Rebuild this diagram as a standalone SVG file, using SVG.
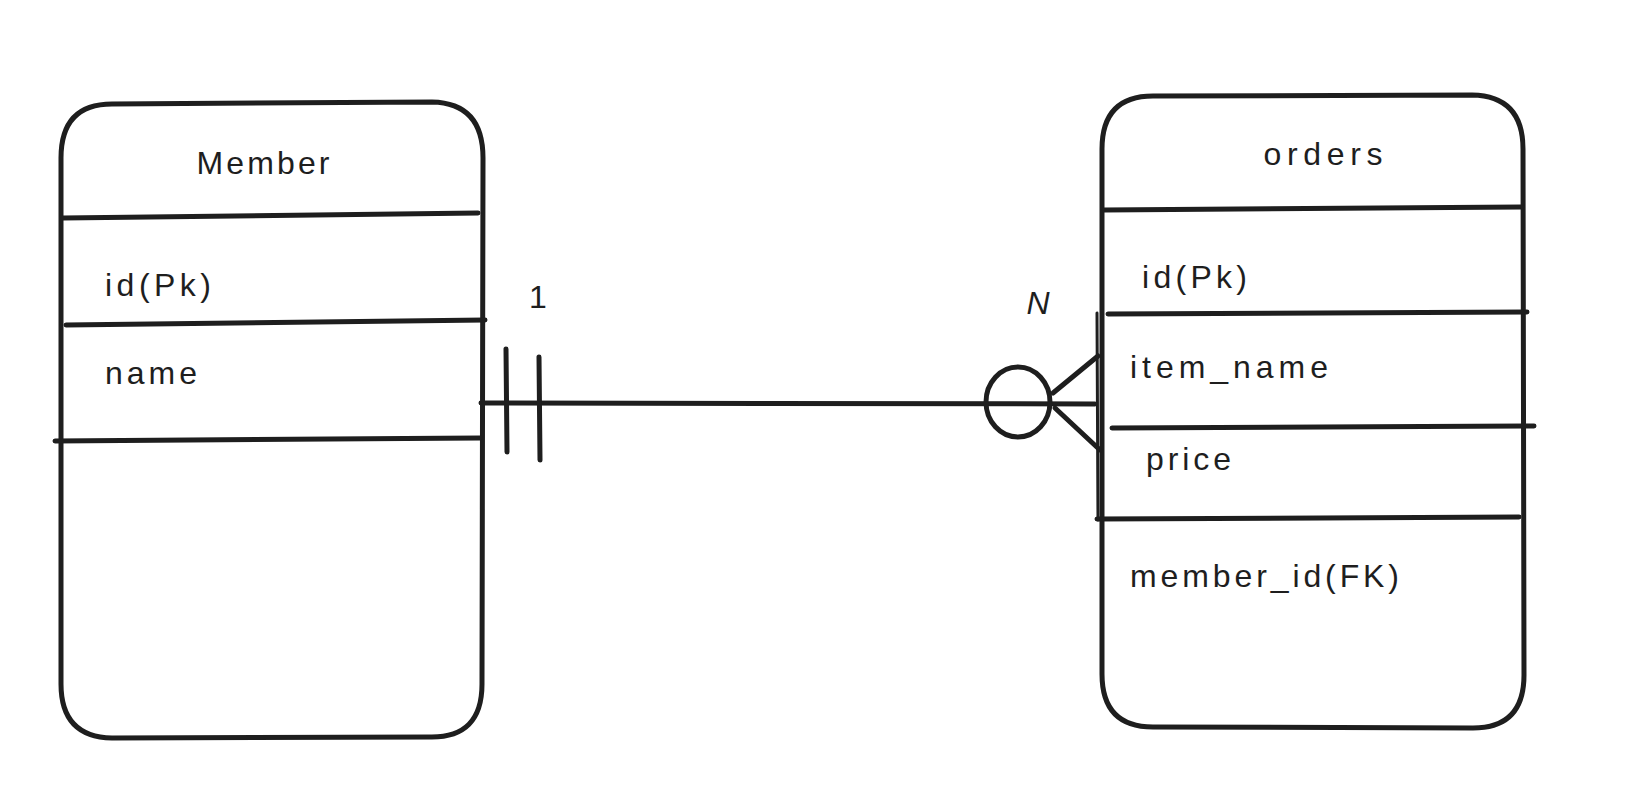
<svg xmlns="http://www.w3.org/2000/svg" width="1646" height="804" viewBox="0 0 1646 804">
<style>
.s{fill:none;stroke:#1e1e1e;stroke-width:5;stroke-linecap:round;stroke-linejoin:round}
.t{font-family:"Liberation Sans",Arial,sans-serif;font-size:32px;fill:#1e1e1e}
</style>
<rect width="1646" height="804" fill="#ffffff"/>
<g id="member">
<path class="s" d="M112,104 L432,102 Q483,103 483,158 L482,684 Q482,738 430,737 L112,738 Q61,737 61,684 L61,158 Q61,104 112,104 Z"/>
<path class="s" d="M63,218 L478,213"/>
<path class="s" d="M66,325 L485,320"/>
<path class="s" d="M55,441 L480,438"/>
<text class="t" x="263" y="174" text-anchor="middle" textLength="133" lengthAdjust="spacing">Member</text>
<text class="t" x="105" y="296" textLength="106" lengthAdjust="spacing">id(Pk)</text>
<text class="t" x="105" y="384" textLength="92" lengthAdjust="spacing">name</text>
</g>
<g id="orders">
<path class="s" d="M1153,96 L1472,95 Q1523,96 1523,149 L1524,675 Q1524,728 1473,728 L1153,727 Q1102,727 1102,674 L1102,149 Q1102,96 1153,96 Z"/>
<path class="s" d="M1104,210 L1522,207"/>
<path class="s" d="M1108,314 L1527,312"/>
<path class="s" d="M1112,428 L1534,426"/>
<path class="s" d="M1097,519 L1519,517"/>
<text class="t" x="1323" y="165" text-anchor="middle" textLength="119" lengthAdjust="spacing">orders</text>
<text class="t" x="1142" y="288" textLength="105" lengthAdjust="spacing">id(Pk)</text>
<text class="t" x="1130" y="378" textLength="198" lengthAdjust="spacing">item_name</text>
<text class="t" x="1146" y="470" textLength="85" lengthAdjust="spacing">price</text>
<text class="t" x="1130" y="587" textLength="269" lengthAdjust="spacing">member_id(FK)</text>
</g>
<g id="connectors">
<path class="s" d="M481,403 L1095,404"/>
<path class="s" d="M506,349 L507,452"/>
<path class="s" d="M539,357 L540,460"/>
<ellipse class="s" cx="1018" cy="402" rx="32" ry="35"/>
<path class="s" d="M1053,393 L1098,356"/>
<path class="s" d="M1055,408 L1100,450"/>
<path class="s" style="stroke-width:3" d="M1097,313 L1098,520"/>
<text class="t" x="538" y="308" text-anchor="middle" font-size="28">1</text>
<text class="t" x="1038" y="314" text-anchor="middle" font-size="28" font-style="italic">N</text>
</g>
</svg>
